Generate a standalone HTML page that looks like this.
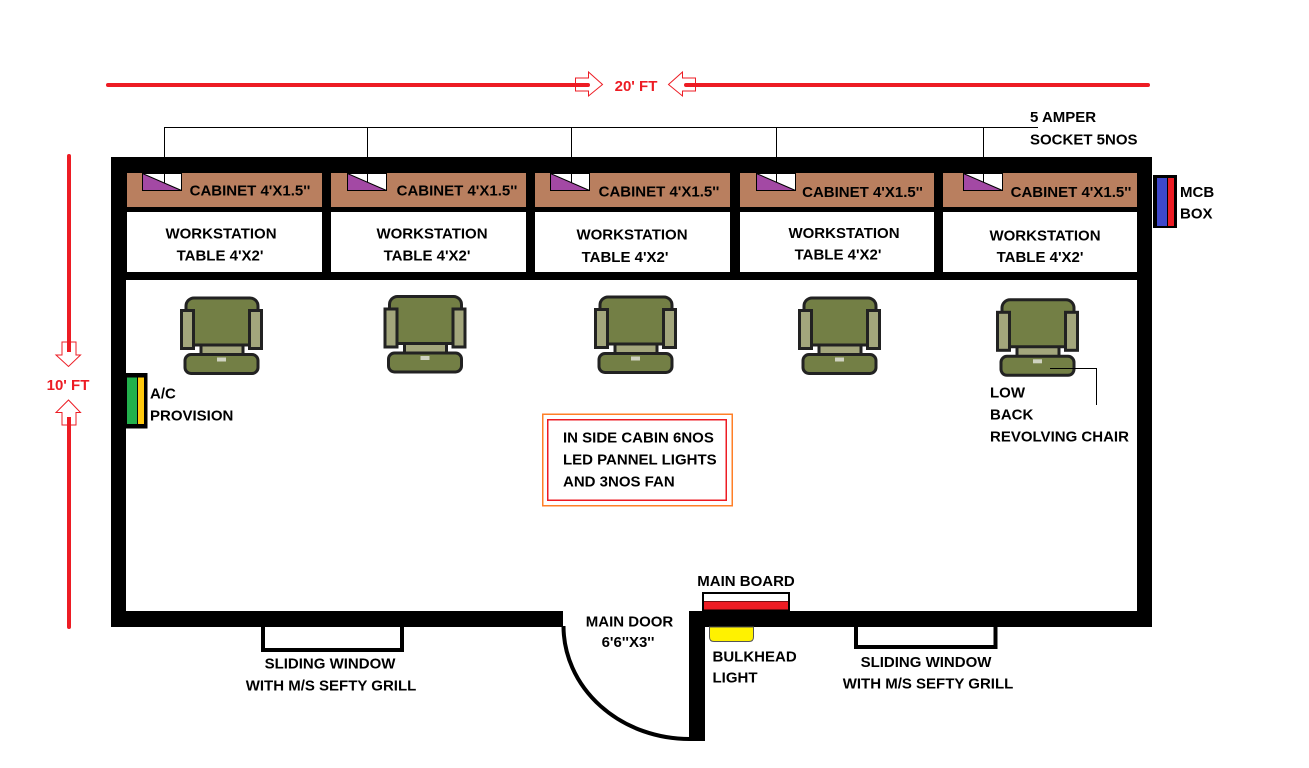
<!DOCTYPE html>
<html>
<head>
<meta charset="utf-8">
<style>
  html,body{margin:0;padding:0;background:#fff;}
  svg{display:block;}
  text{font-family:"Liberation Sans",Arial,sans-serif;font-weight:bold;font-size:15px;fill:#000;}
  .c{text-anchor:middle;}
  .r{fill:#ed1c24;}
</style>
</head>
<body>
<svg width="1309" height="768" viewBox="0 0 1309 768" xmlns="http://www.w3.org/2000/svg">
  <rect x="0" y="0" width="1309" height="768" fill="#fff"/>

  <!-- top dimension line -->
  <line x1="108" y1="85" x2="588" y2="85" stroke="#ed1c24" stroke-width="4" stroke-linecap="round"/>
  <line x1="686" y1="85" x2="1148" y2="85" stroke="#ed1c24" stroke-width="4" stroke-linecap="round"/>
  <polygon points="575.5,78 588.5,78 588.5,72 602.5,84.5 588.5,96 588.5,91 575.5,91" fill="none" stroke="#ed1c24" stroke-width="1"/>
  <polygon points="695.5,78 682.5,78 682.5,72 668.5,84.5 682.5,96 682.5,91 695.5,91" fill="none" stroke="#ed1c24" stroke-width="1"/>
  <text class="c r" x="636" y="91">20' FT</text>

  <!-- left dimension line -->
  <line x1="69" y1="156" x2="69" y2="355" stroke="#ed1c24" stroke-width="4" stroke-linecap="round"/>
  <line x1="69" y1="413" x2="69" y2="627" stroke="#ed1c24" stroke-width="4" stroke-linecap="round"/>
  <polygon points="62,342 76,342 76,355 80.5,355 68.5,366.5 56,355 62,355" fill="#fff" stroke="#ed1c24" stroke-width="1"/>
  <line x1="69" y1="342" x2="69" y2="352" stroke="#ed1c24" stroke-width="4"/>
  <polygon points="62,425 76,425 76,412.5 80.5,412.5 68.5,400 56,412.5 62,412.5" fill="#fff" stroke="#ed1c24" stroke-width="1"/>
  <line x1="69" y1="417" x2="69" y2="426" stroke="#ed1c24" stroke-width="4"/>
  <text class="c r" x="68" y="390">10' FT</text>

  <!-- socket wires -->
  <line x1="164" y1="127.5" x2="1038" y2="127.5" stroke="#000" stroke-width="1"/>
  <line x1="164.5" y1="127" x2="164.5" y2="160" stroke="#000" stroke-width="1"/>
  <line x1="367.5" y1="127" x2="367.5" y2="160" stroke="#000" stroke-width="1"/>
  <line x1="571.5" y1="127" x2="571.5" y2="160" stroke="#000" stroke-width="1"/>
  <line x1="776.5" y1="127" x2="776.5" y2="160" stroke="#000" stroke-width="1"/>
  <line x1="983.5" y1="127" x2="983.5" y2="160" stroke="#000" stroke-width="1"/>
  <text x="1030" y="122">5 AMPER</text>
  <text x="1030" y="144.5">SOCKET 5NOS</text>

  <!-- walls -->
  <rect x="111" y="157" width="1041" height="123" fill="#000"/>
  <rect x="111" y="157" width="15" height="470" fill="#000"/>
  <rect x="1137" y="157" width="15" height="470" fill="#000"/>
  <rect x="111" y="611" width="452" height="16" fill="#000"/>
  <rect x="689" y="611" width="463" height="16" fill="#000"/>
  <rect x="689" y="611" width="16" height="130" fill="#000"/>

  <!-- cabinets -->
  <g fill="#b97f5f">
    <rect x="127" y="173" width="195" height="34"/>
    <rect x="331" y="173" width="195" height="34"/>
    <rect x="535" y="173" width="195" height="34"/>
    <rect x="740" y="173" width="194" height="34"/>
    <rect x="943" y="173" width="194" height="34"/>
  </g>
  <!-- tables -->
  <g fill="#fff">
    <rect x="127" y="212" width="195" height="60"/>
    <rect x="331" y="212" width="195" height="60"/>
    <rect x="535" y="212" width="195" height="60"/>
    <rect x="740" y="212" width="194" height="60"/>
    <rect x="943" y="212" width="194" height="60"/>
  </g>

  <!-- sockets -->
  <g stroke="#000" stroke-width="1">
    <rect x="142.5" y="173.5" width="39" height="17" fill="#fff"/>
    <line x1="164.5" y1="173" x2="164.5" y2="183"/>
    <polygon points="142.5,173.5 142.5,190.5 181.5,190.5" fill="#a349a4"/>
    <rect x="347.5" y="173.5" width="39" height="17" fill="#fff"/>
    <line x1="367.5" y1="173" x2="367.5" y2="183"/>
    <polygon points="347.5,173.5 347.5,190.5 386.5,190.5" fill="#a349a4"/>
    <rect x="550.5" y="173.5" width="39" height="17" fill="#fff"/>
    <line x1="571.5" y1="173" x2="571.5" y2="183"/>
    <polygon points="550.5,173.5 550.5,190.5 589.5,190.5" fill="#a349a4"/>
    <rect x="756.5" y="173.5" width="39" height="17" fill="#fff"/>
    <line x1="776.5" y1="173" x2="776.5" y2="183"/>
    <polygon points="756.5,173.5 756.5,190.5 795.5,190.5" fill="#a349a4"/>
    <rect x="963.5" y="173.5" width="39" height="17" fill="#fff"/>
    <line x1="983.5" y1="173" x2="983.5" y2="183"/>
    <polygon points="963.5,173.5 963.5,190.5 1002.5,190.5" fill="#a349a4"/>
  </g>

  <!-- cabinet labels -->
  <text class="c" x="250" y="195.5">CABINET 4'X1.5''</text>
  <text class="c" x="457" y="195.5">CABINET 4'X1.5''</text>
  <text class="c" x="659" y="196.5">CABINET 4'X1.5''</text>
  <text class="c" x="862.5" y="197">CABINET 4'X1.5''</text>
  <text class="c" x="1071" y="197">CABINET 4'X1.5''</text>

  <!-- workstation labels -->
  <text class="c" x="221" y="238.5">WORKSTATION</text>
  <text class="c" x="220" y="260.5">TABLE 4'X2'</text>
  <text class="c" x="432" y="238.5">WORKSTATION</text>
  <text class="c" x="427" y="260.5">TABLE 4'X2'</text>
  <text class="c" x="632" y="239.5">WORKSTATION</text>
  <text class="c" x="625" y="262">TABLE 4'X2'</text>
  <text class="c" x="844" y="238">WORKSTATION</text>
  <text class="c" x="838" y="259.5">TABLE 4'X2'</text>
  <text class="c" x="1045" y="240.5">WORKSTATION</text>
  <text class="c" x="1040" y="262">TABLE 4'X2'</text>

  <!-- MCB box -->
  <rect x="1153" y="175" width="24" height="53" fill="#000"/>
  <rect x="1157" y="178" width="10" height="48" fill="#3f48cc"/>
  <rect x="1168" y="178" width="6" height="48" fill="#ed1c24"/>
  <text x="1180" y="197">MCB</text>
  <text x="1180" y="218.5">BOX</text>

  <!-- A/C -->
  <rect x="126" y="373" width="21.5" height="55.5" fill="#000"/>
  <rect x="127" y="377.5" width="10" height="46.5" fill="#22b14c"/>
  <rect x="138" y="377.5" width="6" height="46.5" fill="#ffc90e"/>
  <text x="150" y="398.5">A/C</text>
  <text x="150" y="420.5">PROVISION</text>

  <!-- chairs -->
  <defs>
    <g id="chair">
      <rect x="21" y="46" width="42" height="13" fill="#a3a67c" stroke="#222" stroke-width="3"/>
      <rect x="6" y="1.5" width="72" height="47" rx="8" fill="#737f45" stroke="#222" stroke-width="3"/>
      <rect x="1.5" y="14" width="12" height="38" fill="#a3a67c" stroke="#222" stroke-width="3"/>
      <rect x="69.5" y="14" width="12" height="38" fill="#a3a67c" stroke="#222" stroke-width="3"/>
      <rect x="5" y="58" width="73" height="19" rx="6" fill="#737f45" stroke="#222" stroke-width="3"/>
      <rect x="37" y="61" width="9" height="4" fill="#cfd2c0"/>
    </g>
  </defs>
  <use href="#chair" x="180" y="296.5"/>
  <use href="#chair" x="383.5" y="295"/>
  <use href="#chair" x="594" y="295.5"/>
  <use href="#chair" x="798" y="296.5"/>
  <use href="#chair" x="996" y="298.3"/>

  <!-- chair leader -->
  <polyline points="1050,368.5 1096.5,368.5 1096.5,405" fill="none" stroke="#000" stroke-width="1"/>
  <text x="990" y="397.5">LOW</text>
  <text x="990" y="419.5">BACK</text>
  <text x="990" y="441.5">REVOLVING CHAIR</text>

  <!-- center note -->
  <rect x="542.75" y="414.25" width="189.5" height="91.5" fill="none" stroke="#ff7f27" stroke-width="1.5"/>
  <rect x="547.75" y="419.75" width="178.5" height="80.5" fill="none" stroke="#ed1c24" stroke-width="1.5"/>
  <text x="563" y="442.5">IN SIDE CABIN 6NOS</text>
  <text x="563" y="464.5">LED PANNEL LIGHTS</text>
  <text x="563" y="486.5">AND 3NOS FAN</text>

  <!-- windows -->
  <rect x="263" y="625" width="139" height="25" fill="#fff" stroke="#000" stroke-width="4"/>
  <rect x="111" y="611" width="452" height="16" fill="#000"/>
  <text class="c" x="330" y="668.5">SLIDING WINDOW</text>
  <text class="c" x="331" y="690.5">WITH M/S SEFTY GRILL</text>

  <rect x="856" y="625" width="139.5" height="22" fill="#fff" stroke="#000" stroke-width="4"/>
  <rect x="689" y="611" width="463" height="16" fill="#000"/>
  <text class="c" x="926" y="667">SLIDING WINDOW</text>
  <text class="c" x="928" y="688.5">WITH M/S SEFTY GRILL</text>

  <!-- door -->
  <path d="M 563.5 626 A 126 113 0 0 0 690 739" fill="none" stroke="#000" stroke-width="4"/>
  <text class="c" x="629.5" y="626.5">MAIN DOOR</text>
  <text class="c" x="628" y="647">6'6''X3''</text>

  <!-- main board -->
  <rect x="702" y="592" width="88" height="19" fill="#000"/>
  <rect x="704" y="594" width="84" height="7" fill="#fff"/>
  <rect x="704" y="601.5" width="84" height="8" fill="#ed1c24"/>
  <text class="c" x="746" y="586">MAIN BOARD</text>

  <!-- bulkhead -->
  <path d="M 709.5 627 L 709.5 637 Q 709.5 641.5 714 641.5 L 749 641.5 Q 753.5 641.5 753.5 637 L 753.5 627 Z" fill="#fff200" stroke="#555" stroke-width="1"/>
  <text x="712.5" y="661.5">BULKHEAD</text>
  <text x="712.5" y="682.5">LIGHT</text>
</svg>
</body>
</html>
